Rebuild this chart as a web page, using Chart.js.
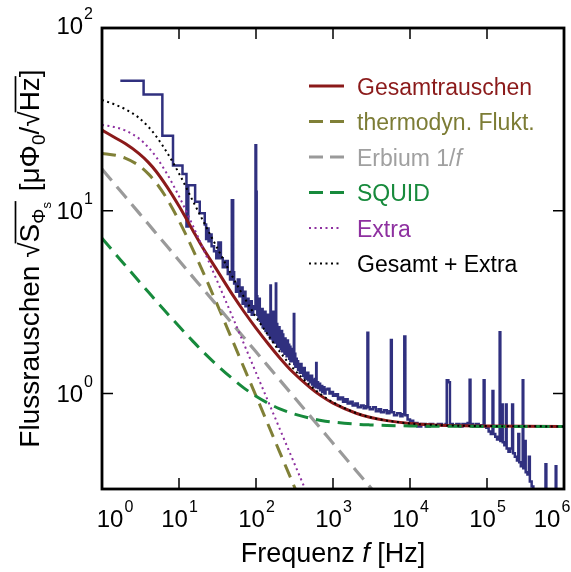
<!DOCTYPE html>
<html>
<head>
<meta charset="utf-8">
<script src="https://cdn.jsdelivr.net/npm/chart.js@4.4.0/dist/chart.umd.min.js"></script>
<style>
  html, body { margin: 0; padding: 0; background: #fff; }
  #wrap { width: 571px; height: 572px; position: relative; }
</style>
</head>
<body>
<div id="wrap"><canvas id="rauschen"></canvas></div>
<script>
// Frequenzen der Modellkurven [Hz]
const freqs = [1, 1.5, 2, 3, 4, 5, 7, 10, 15, 20, 30, 50, 70, 100, 150, 200, 300, 500, 700, 1000, 2000, 3000, 5000, 1e4, 2e4, 5e4, 1e5, 3e5, 1e6];

// Modellkurven [µPhi0/sqrt(Hz)]
const gesamt = [27.6, 25.0, 23.3, 20.6, 18.4, 16.5, 13.5, 10.6, 7.85, 6.35, 4.85, 3.45, 2.80, 2.28, 1.83, 1.58, 1.31, 1.08, 0.970, 0.885, 0.779, 0.741, 0.710, 0.685, 0.673, 0.665, 0.663, 0.661, 0.660];
const thermo = [20.6, 20.1, 19.4, 17.7, 15.9, 14.3, 11.6, 8.82, 6.19, 4.73, 3.20, 1.93, 1.38, 0.970, 0.647, 0.485, 0.324, 0.194, null, null, null, null, null, null, null, null, null, null, null];
const erbium = [16.9, 13.8, 11.95, 9.76, 8.45, 7.56, 6.39, 5.34, 4.36, 3.78, 3.09, 2.39, 2.02, 1.69, 1.38, 1.195, 0.976, 0.756, 0.639, 0.534, 0.378, 0.309, 0.239, null, null, null, null, null, null];
const squid = [7.08, 5.79, 5.03, 4.12, 3.59, 3.22, 2.75, 2.33, 1.94, 1.71, 1.45, 1.20, 1.07, 0.966, 0.876, 0.827, 0.776, 0.732, 0.712, 0.697, 0.679, 0.673, 0.668, 0.664, 0.662, 0.661, 0.660, 0.660, 0.660];
const extra = [29.5, 28.6, 27.5, 24.9, 22.2, 19.8, 15.9, 12.0, 8.35, 6.37, 4.30, 2.60, 1.86, 1.30, 0.868, 0.651, 0.434, 0.261, null, null, null, null, null, null, null, null, null, null, null];
const gesamtExtra = [40.4, 38.0, 36.0, 32.3, 28.8, 25.7, 20.8, 16.0, 11.4, 9.0, 6.48, 4.32, 3.36, 2.62, 2.03, 1.71, 1.38, 1.11, 0.987, 0.895, 0.781, 0.742, 0.710, 0.685, 0.673, 0.665, 0.663, 0.661, 0.660];

// Messung (Frequenz ab der die Stufe gilt, Rauschen)
const messung = [
  [1.73, 51.5], [3.47, 43.3], [6.08, 25.7], [8.36, 17.7], [11.1, 15.9], [12.5, 8.2], [13.2, 13.8], [16.2, 11.2],
  [18.6, 9.7], [21.6, 8.4], [22.5, 7.0], [23.3, 8.0], [24.2, 6.8], [25.2, 7.4], [26.5, 6.4], [28.5, 6.0],
  [30.5, 5.5], [32.5, 6.7], [35, 5.5], [37, 4.9], [40, 5.3], [43, 4.5], [46, 4.2], [48.5, 11.4], [50.5, 4.6],
  [52, 4.0], [55, 3.6], [58, 4.2], [61, 3.4], [64, 3.8], [67, 3.1], [70, 3.6], [73, 3.0], [76, 3.3], [80, 2.8],
  [84, 3.2], [88, 2.7], [92, 3.0], [96, 2.9], [98.5, 22.8], [100.5, 12.7], [102, 3.4], [104, 2.7], [106, 3.1],
  [108, 2.6], [110, 3.3], [112, 2.5], [115, 2.9], [117, 2.4], [120, 2.9], [122, 2.3], [125, 2.7], [128, 2.3],
  [130, 2.8], [133, 2.2], [135, 2.6], [138, 2.2], [140, 2.7], [143, 2.1], [145, 2.5], [148, 2.1], [150, 2.4],
  [152, 2.0], [154, 3.9], [156, 2.1], [158, 2.6], [160, 2.0], [162, 2.5], [165, 1.95], [167, 2.8], [170, 2.0],
  [172, 2.4], [175, 1.9], [178, 2.6], [181, 4.0], [183, 2.0], [186, 2.4], [189, 1.85], [192, 2.3], [195, 1.8],
  [198, 2.3], [202, 1.8], [206, 2.2], [210, 1.75], [214, 2.2], [218, 1.7], [222, 2.1], [226, 1.7], [230, 2.0],
  [234, 1.65], [238, 2.0], [242, 1.65], [246, 1.9], [250, 1.6], [255, 1.95], [260, 1.6], [265, 1.85], [270, 1.55],
  [275, 1.8], [280, 1.5], [285, 1.75], [290, 1.5], [295, 1.7], [300, 1.5], [305, 1.7], [310, 2.72], [314, 1.45],
  [318, 1.65], [324, 1.4], [330, 1.55], [338, 1.4], [345, 1.5], [352, 1.35], [360, 1.45], [370, 1.3], [380, 1.45],
  [390, 1.3], [400, 1.35], [410, 1.25], [420, 1.38], [430, 1.22], [440, 1.3], [452, 1.2], [465, 1.3], [478, 1.18],
  [490, 1.25], [505, 1.15], [520, 1.25], [535, 1.12], [550, 1.18], [565, 1.1], [580, 1.2], [595, 1.08], [605, 1.47],
  [612, 1.1], [620, 1.15], [640, 1.07], [660, 1.13], [680, 1.04], [700, 1.1], [725, 1.02], [750, 1.08], [775, 1.0],
  [800, 1.05], [850, 1.06], [900, 1.0], [950, 1.02], [1000, 0.97], [1080, 0.99], [1160, 0.93], [1250, 0.95],
  [1350, 0.9], [1450, 0.93], [1550, 0.88], [1680, 0.9], [1800, 0.86], [1950, 0.88], [2100, 0.84], [2300, 0.86],
  [2500, 0.83], [2700, 0.85], [2800, 2.15], [2870, 0.84], [3000, 0.82], [3300, 0.84], [3600, 0.8], [3900, 0.82],
  [4200, 0.79], [4600, 0.81], [5000, 0.78], [5400, 0.8], [5650, 1.96], [5800, 0.79], [6200, 0.76], [6800, 0.78],
  [7500, 0.75], [8000, 0.77], [8430, 2.05], [8700, 0.76], [9300, 0.72], [10000, 0.71], [11000, 0.69],
  [12500, 0.66], [14000, 0.68], [16000, 0.66], [18000, 0.68], [20000, 0.67], [23000, 0.68], [26000, 0.67],
  [29000, 0.68], [30000, 1.18], [31500, 1.15], [33000, 0.68], [36000, 0.67], [40000, 0.68], [44000, 0.66],
  [48000, 0.68], [52000, 0.67], [56000, 0.69], [59500, 1.19], [61000, 0.68], [66000, 0.66], [72000, 0.68],
  [78000, 0.66], [84000, 0.67], [90500, 1.18], [93000, 0.66], [98000, 0.65], [105000, 0.62], [112000, 0.6],
  [118000, 1.03], [121000, 0.6], [128000, 0.58], [135000, 0.56], [141000, 0.58], [146000, 2.16], [149000, 0.55],
  [156000, 0.87], [160000, 0.54], [168000, 0.52], [176000, 0.87], [180000, 0.5], [190000, 0.48], [200000, 0.5],
  [212000, 0.87], [218000, 0.47], [230000, 0.45], [245000, 0.43], [255000, 0.6], [262000, 0.42], [275000, 0.4],
  [291000, 1.18], [296000, 0.39], [310000, 0.55], [318000, 0.37], [335000, 0.36], [350000, 0.45], [360000, 0.33],
  [380000, 0.31], [400000, 0.2], [575000, 0.41], [590000, 0.2], [780000, 0.40], [795000, 0.2], [1000000, 0.2]
];

// Achsen: Dekaden
const xExps = [0, 1, 2, 3, 4, 5, 6];
const yExps = [0, 1, 2];

const FONT = '"Liberation Sans", Arial, Helvetica, sans-serif';

const legendItems = [
  { text: 'Gesamtrauschen', color: '#8b1a1a', textColor: '#8b1a1a', dash: [], width: 3, len: 35 },
  { text: 'thermodyn. Flukt.', color: '#808037', textColor: '#7c7c35', dash: [14, 7], width: 3, len: 35 },
  { text: 'Erbium 1/', italic: 'f', color: '#9a9a9a', textColor: '#a0a0a0', dash: [14, 7], width: 3, len: 35 },
  { text: 'SQUID', color: '#178a3c', textColor: '#178a3c', dash: [14, 7], width: 3, len: 35 },
  { text: 'Extra', color: '#8e30a0', textColor: '#8e30a0', dash: [2, 3.5], width: 2, len: 31 },
  { text: 'Gesamt + Extra', color: '#000000', textColor: '#000000', dash: [2, 3.5], width: 2, len: 31 }
];

function curve(vals) {
  return freqs.map((f, i) => ({ x: f, y: vals[i] }));
}

function pow10(ctx, x, y, exp, align) {
  // "10" mit Exponent, y = Grundlinie
  ctx.font = '24px ' + FONT;
  const wb = ctx.measureText('10').width;
  ctx.font = '16px ' + FONT;
  const ws = ctx.measureText(String(exp)).width;
  const w = wb + ws;
  let x0 = align === 'right' ? x - w : x - w / 2;
  ctx.textAlign = 'left';
  ctx.textBaseline = 'alphabetic';
  ctx.font = '24px ' + FONT;
  ctx.fillText('10', x0, y);
  ctx.font = '16px ' + FONT;
  ctx.fillText(String(exp), x0 + wb + 1, y - 15);
}

function drawYTitle(ctx, cx, cy) {
  const base = '28px ' + FONT;
  const sub = '19px ' + FONT;
  const sub2 = '13px ' + FONT;
  const parts = [
    { t: 'Flussrauschen ', f: base, dy: 0 },
    { t: '\u221A', f: base, dy: 0, root: 1 },
    { t: 'S', f: base, dy: 0, bar: 1 },
    { t: '\u03A6', f: sub, dy: 6, bar: 1 },
    { t: 's', f: sub2, dy: 12, bar: 1 },
    { t: ' [\u03BC\u03A6', f: base, dy: 0, gap: 3 },
    { t: '0', f: sub, dy: 6 },
    { t: '/', f: base, dy: 0 },
    { t: '\u221A', f: base, dy: 0, root: 2 },
    { t: 'Hz', f: base, dy: 0, bar: 2 },
    { t: ']', f: base, dy: 0 }
  ];
  let total = 0;
  parts.forEach(p => {
    ctx.font = p.f;
    p.w = ctx.measureText(p.t).width;
    total += p.w + (p.gap || 0);
  });
  ctx.save();
  ctx.translate(cx, cy);
  ctx.rotate(-Math.PI / 2);
  ctx.fillStyle = '#000';
  ctx.textAlign = 'left';
  ctx.textBaseline = 'alphabetic';
  let x = -total / 2;
  const bars = {};
  parts.forEach(p => {
    x += p.gap || 0;
    ctx.font = p.f;
    ctx.fillText(p.t, x, p.dy);
    if (p.root) bars[p.root] = { s: x + p.w - 1, e: x + p.w };
    if (p.bar) bars[p.bar].e = x + p.w;
    x += p.w;
  });
  ctx.strokeStyle = '#000';
  ctx.lineWidth = 1.7;
  Object.values(bars).forEach(b => {
    ctx.beginPath();
    ctx.moveTo(b.s, -23.5);
    ctx.lineTo(b.e + 1, -23.5);
    ctx.stroke();
  });
  ctx.restore();
}

const axesPlugin = {
  id: 'axesPlugin',
  afterDatasetsDraw(chart) {
    const { ctx, chartArea: a, scales: { x, y } } = chart;
    ctx.save();
    // Rahmen
    ctx.strokeStyle = '#000';
    ctx.lineWidth = 2.8;
    ctx.strokeRect(a.left, a.top, a.right - a.left, a.bottom - a.top);
    // Ticks innen
    ctx.lineWidth = 1.5;
    ctx.beginPath();
    xExps.forEach(e => {
      const px = x.getPixelForValue(Math.pow(10, e));
      if (px <= a.left + 2 || px >= a.right - 2) return;
      ctx.moveTo(px, a.bottom); ctx.lineTo(px, a.bottom - 11);
      ctx.moveTo(px, a.top); ctx.lineTo(px, a.top + 11);
    });
    yExps.forEach(e => {
      const py = y.getPixelForValue(Math.pow(10, e));
      if (py <= a.top + 2 || py >= a.bottom - 2) return;
      ctx.moveTo(a.left, py); ctx.lineTo(a.left + 11, py);
      ctx.moveTo(a.right, py); ctx.lineTo(a.right - 11, py);
    });
    ctx.stroke();

    // Tick-Beschriftung
    ctx.fillStyle = '#000';
    xExps.forEach((e, i) => {
      let px = x.getPixelForValue(Math.pow(10, e));
      if (i === 0) px += 12.5;
      if (i === xExps.length - 1) px -= 12.5;
      pow10(ctx, px, 527, e, 'center');
    });
    yExps.forEach((e, i) => {
      let py = y.getPixelForValue(Math.pow(10, e));
      if (i === yExps.length - 1) py -= 3;
      pow10(ctx, 92, py + 8.5, e, 'right');
    });

    // x-Titel
    const tf = '27px ' + FONT;
    ctx.font = tf;
    const t1 = 'Frequenz ', t3 = ' [Hz]';
    const w1 = ctx.measureText(t1).width, w3 = ctx.measureText(t3).width;
    ctx.font = 'italic ' + tf;
    const w2 = ctx.measureText('f').width;
    let tx = (a.left + a.right) / 2 - (w1 + w2 + w3) / 2;
    ctx.textAlign = 'left';
    ctx.font = tf;
    ctx.fillText(t1, tx, 562);
    ctx.font = 'italic ' + tf;
    ctx.fillText('f', tx + w1, 562);
    ctx.font = tf;
    ctx.fillText(t3, tx + w1 + w2, 562);

    // y-Titel
    drawYTitle(ctx, 39, (a.top + a.bottom) / 2);

    // Legende
    legendItems.forEach((it, i) => {
      const cy = 86 + i * 35.5;
      ctx.save();
      ctx.strokeStyle = it.color;
      ctx.lineWidth = it.width;
      ctx.setLineDash(it.dash);
      ctx.beginPath();
      ctx.moveTo(309, cy);
      ctx.lineTo(309 + it.len, cy);
      ctx.stroke();
      ctx.restore();
      ctx.fillStyle = it.textColor;
      ctx.font = '23px ' + FONT;
      ctx.textAlign = 'left';
      ctx.fillText(it.text, 357, cy + 8.5);
      if (it.italic) {
        const w = ctx.measureText(it.text).width;
        ctx.font = 'italic 23px ' + FONT;
        ctx.fillText(it.italic, 357 + w, cy + 8.5);
      }
    });
    ctx.restore();
  }
};

function lineSet(label, vals, color, dash, width, order) {
  return {
    label: label,
    data: curve(vals),
    borderColor: color,
    borderWidth: width,
    borderDash: dash,
    pointRadius: 0,
    fill: false,
    cubicInterpolationMode: 'monotone',
    spanGaps: false,
    order: order
  };
}

new Chart(document.getElementById('rauschen'), {
  type: 'line',
  data: {
    datasets: [
      {
        label: 'Messung',
        data: messung.map(p => ({ x: p[0], y: p[1] })),
        borderColor: '#30307f',
        borderWidth: 2.5,
        stepped: 'before',
        pointRadius: 0,
        fill: false,
        order: 7
      },
      lineSet('Gesamtrauschen', gesamt, '#8b1a1a', [], 3, 6),
      lineSet('thermodyn. Flukt.', thermo, '#808037', [14, 8], 3, 5),
      lineSet('Erbium 1/f', erbium, '#9a9a9a', [15, 8], 3.2, 4),
      lineSet('SQUID', squid, '#178a3c', [14, 8], 3, 3),
      lineSet('Extra', extra, '#8e30a0', [2, 3.5], 2, 2),
      lineSet('Gesamt + Extra', gesamtExtra, '#000000', [2, 3.5], 2, 1)
    ]
  },
  options: {
    responsive: true,
    maintainAspectRatio: false,
    animation: false,
    layout: { padding: { left: 102, top: 28, right: 7, bottom: 83 } },
    scales: {
      x: { type: 'logarithmic', min: 1, max: 1e6, display: false },
      y: { type: 'logarithmic', min: 0.3162, max: 100, display: false }
    },
    plugins: {
      legend: { display: false },
      tooltip: { enabled: false }
    }
  },
  plugins: [axesPlugin]
});
</script>
</body>
</html>
